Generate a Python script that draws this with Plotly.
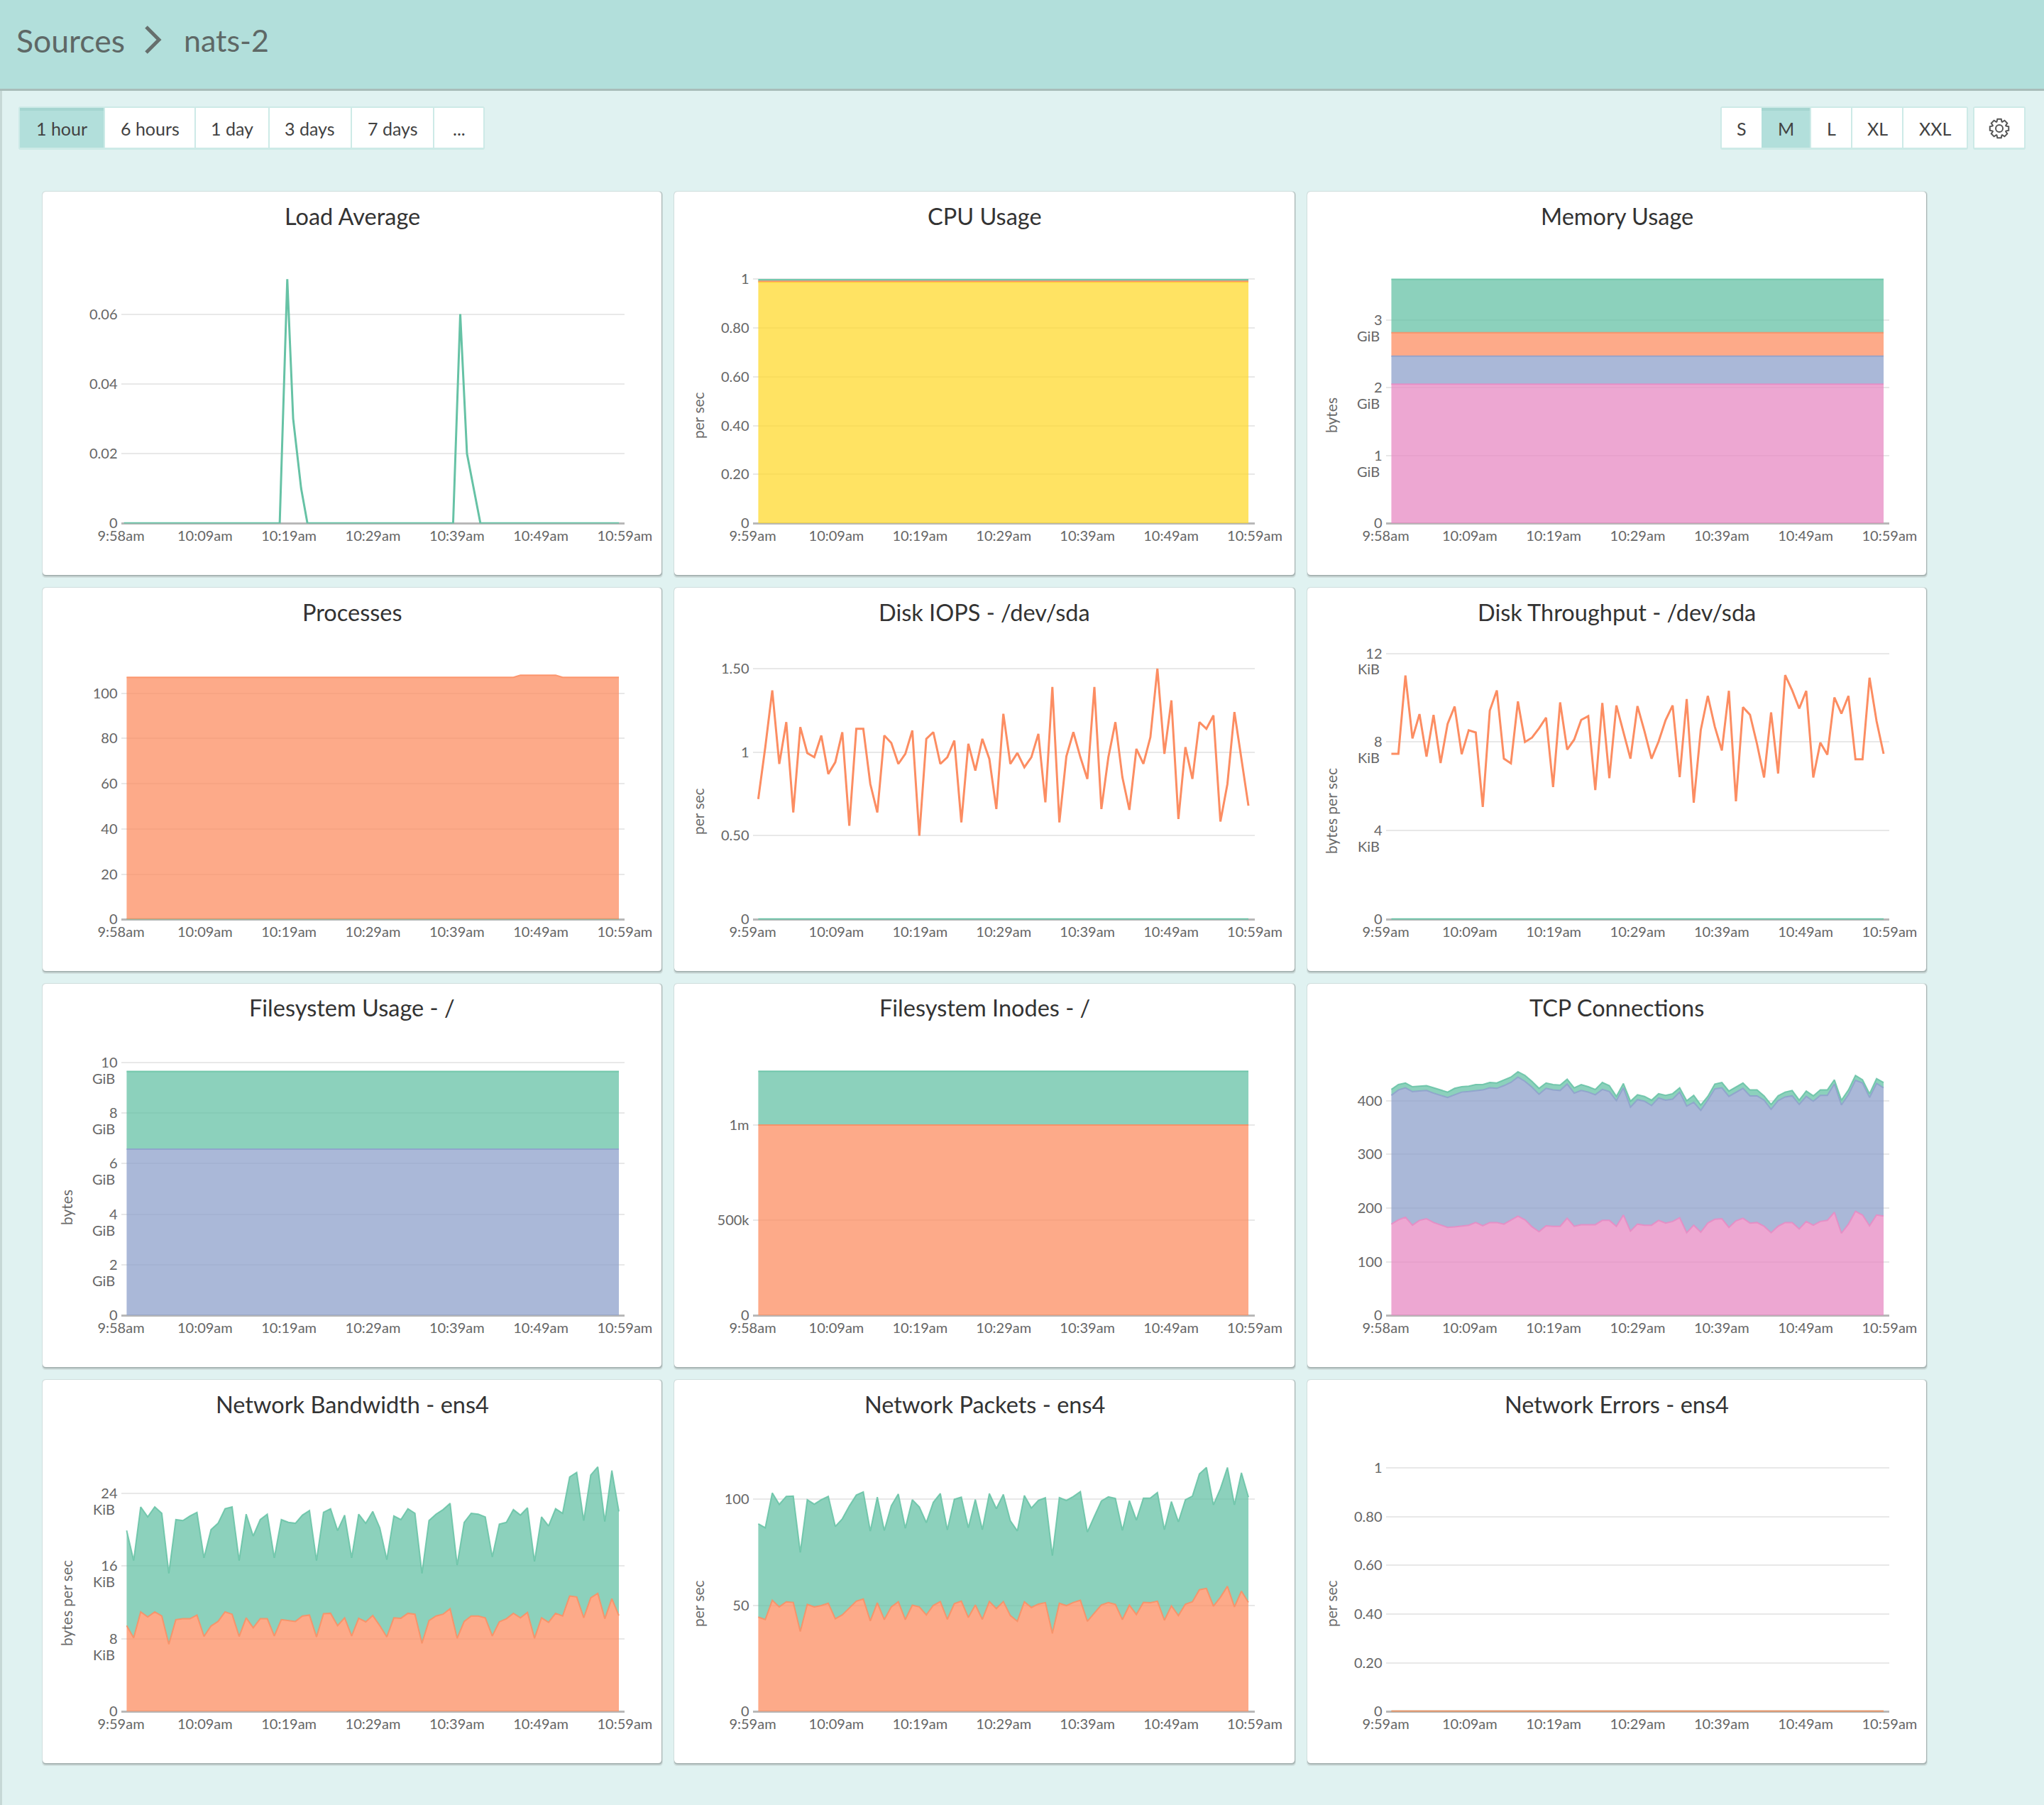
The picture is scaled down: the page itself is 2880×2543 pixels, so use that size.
"""Sources / nats-2 host dashboard, twelve small time series panels."""

import numpy as np
import plotly.graph_objects as go

W, H = 2880, 2543

GREEN, ORANGE, BLUE, PINK, YELLOW = "102,194,165", "252,141,98", "141,160,203", "231,138,195", "255,217,47"

# minutes past the first tick
TICK_MIN = [0, 10, 20, 30, 40, 50, 60]
TICKS_958 = ["9:58am", "10:09am", "10:19am", "10:29am", "10:39am", "10:49am", "10:59am"]
TICKS_959 = ["9:59am", "10:09am", "10:19am", "10:29am", "10:39am", "10:49am", "10:59am"]

load_minutes = [0.35, 18.9, 19.8, 20.5, 21.45, 22.2, 39.55, 40.4, 41.2, 42.8, 59.3]
load_values = [0, 0, 0.07, 0.03, 0.01, 0, 0, 0.06, 0.02, 0, 0]

cpu_idle = [0.988] * 71
cpu_system = [0.991] * 71
cpu_total = [0.998] * 71

mem_used = [2.053] * 71
mem_buffers = [2.467] * 71
mem_cached = [2.81] * 71
mem_free = [3.60] * 71

proc_sleeping = [107] * 56 + [108] * 6 + [107] * 9
proc_running = [0] * 71

iops_sda = [
    0.72, 1.03, 1.37, 0.93, 1.18, 0.64, 1.15, 0.995, 0.97, 1.10, 0.87, 0.94, 1.12, 0.56, 1.14, 1.14, 0.81, 0.64,
    1.10, 1.055, 0.93, 0.99, 1.13, 0.50, 1.08, 1.12, 0.93, 0.97, 1.07, 0.58, 1.05, 0.89, 1.08, 0.96, 0.66, 1.23,
    0.93, 0.995, 0.91, 0.97, 1.11, 0.70, 1.39, 0.58, 0.975, 1.12, 0.97, 0.84, 1.39, 0.66, 0.97, 1.18, 0.85, 0.655,
    1.02, 0.93, 1.09, 1.50, 0.99, 1.31, 0.60, 1.03, 0.84, 1.18, 1.14, 1.22, 0.585, 0.81, 1.24, 0.97, 0.68,
]
iops_other = [0] * 71

throughput_sda = [
    7.47, 7.47, 11.0, 8.16, 9.26, 7.34, 9.22, 7.05, 8.82, 9.6, 7.45, 8.53, 8.43, 5.07, 9.42, 10.33, 7.25, 7.04,
    9.83, 8.0, 8.2, 8.62, 9.1, 5.97, 9.79, 7.66, 8.11, 9.0, 9.17, 5.83, 9.76, 6.37, 9.65, 8.48, 7.25, 9.62,
    8.48, 7.25, 8.02, 8.99, 9.65, 6.42, 9.94, 5.26, 8.54, 10.08, 8.69, 7.62, 10.31, 5.33, 9.57, 9.23, 7.91, 6.4,
    9.34, 6.58, 11.02, 10.33, 9.51, 10.31, 6.4, 7.97, 7.43, 10.01, 9.28, 10.08, 7.22, 7.22, 10.9, 8.94, 7.47,
]
throughput_other = [0] * 71

fs_used = [6.57] * 71
fs_total = [9.64] * 71

inodes_free = [1000000] * 71
inodes_total = [1282000] * 71

tcp_established = [
    170, 178, 183, 168, 177, 180, 173, 168, 164, 165, 167, 168, 173, 167, 173, 173, 170, 178, 185, 178,
    165, 156, 167, 166, 166, 181, 166, 169, 169, 169, 177, 177, 166, 187, 157, 170, 168, 168, 177, 172,
    175, 182, 154, 168, 155, 172, 179, 180, 164, 176, 181, 172, 173, 166, 154, 166, 173, 173, 161, 175,
    168, 175, 177, 192, 153, 170, 194, 187, 167, 187, 185,
]
tcp_time_wait = [
    410, 420, 424, 417, 418, 419, 414, 410, 406, 411, 416, 417, 419, 420, 424, 423, 428, 434, 444, 436,
    425, 412, 423, 420, 419, 431, 414, 419, 416, 411, 421, 417, 400, 424, 388, 402, 399, 391, 405, 401,
    403, 416, 390, 397, 382, 401, 422, 424, 408, 416, 423, 409, 409, 401, 384, 400, 407, 409, 393, 408,
    399, 410, 410, 431, 392, 411, 438, 433, 406, 432, 424,
]
tcp_total = [
    421, 430, 433, 426, 427, 428, 424, 420, 416, 423, 426, 427, 430, 430, 434, 433, 438, 444, 454, 447,
    436, 423, 433, 430, 429, 440, 424, 430, 426, 421, 434, 428, 408, 432, 399, 411, 408, 401, 413, 410,
    413, 424, 400, 410, 392, 408, 431, 434, 418, 425, 433, 420, 420, 409, 393, 409, 416, 419, 401, 418,
    409, 420, 420, 439, 401, 420, 447, 439, 413, 441, 434,
]

bandwidth_out = [
    9.44, 8.1, 10.95, 10.4, 10.95, 10.5, 7.4, 10.1, 10.2, 10.2, 10.6, 8.25, 9.4, 9.9, 10.95, 10.7, 8.25, 10.3,
    9.2, 10.2, 10.2, 8.3, 10.1, 10.0, 9.9, 10.5, 10.6, 8.2, 10.75, 10.8, 9.44, 10.3, 8.3, 10.25, 9.86, 10.55,
    9.44, 8.2, 10.3, 10.25, 10.8, 10.7, 7.5, 10.0, 10.5, 10.7, 11.3, 8.05, 9.9, 10.5, 10.5, 10.3, 8.3, 9.86,
    10.2, 10.8, 10.3, 10.9, 8.05, 10.3, 9.8, 10.8, 10.5, 12.7, 12.6, 10.3, 12.5, 13.0, 10.2, 12.4, 10.55,
]
bandwidth_total = [
    19.9, 16.6, 22.5, 21.4, 22.5, 21.8, 15.2, 21.1, 21.0, 21.5, 21.9, 16.9, 20.0, 20.7, 22.3, 22.5, 16.6, 21.7,
    19.3, 21.1, 21.7, 16.9, 21.1, 20.8, 20.7, 21.6, 22.1, 16.6, 21.9, 22.3, 19.9, 21.6, 16.9, 21.7, 20.7, 22.0,
    20.2, 16.7, 21.5, 21.1, 22.3, 21.8, 15.2, 21.0, 21.7, 22.2, 22.9, 16.1, 20.8, 21.8, 21.7, 21.4, 17.0, 20.6,
    20.8, 22.2, 21.6, 22.4, 16.5, 21.4, 20.4, 22.3, 21.8, 25.8, 26.3, 21.0, 26.0, 26.9, 20.9, 26.5, 22.0,
]

packets_out = [
    44.5, 43.3, 52.4, 49.3, 51.7, 51.4, 37.7, 50.5, 49.3, 49.9, 51, 43.7, 45.5, 48.8, 52, 53, 42.7, 51.2,
    43.3, 49.3, 51.7, 43.3, 50.1, 49.3, 45.5, 50, 51.8, 43.4, 50.8, 52, 44.3, 50.2, 43.4, 51.8, 48.5, 51.8,
    45.2, 42.5, 51.7, 49, 50.6, 51.3, 36.8, 51, 49.9, 51.4, 52.4, 42.5, 46.4, 50.2, 51.3, 50.5, 43.3, 50.1,
    45.7, 51.4, 51.3, 52, 43, 49.8, 45.2, 50.6, 51.7, 57.4, 58, 49.6, 53.8, 59, 49.3, 56.7, 51.4,
]
packets_total = [
    88.4, 86.6, 103, 97.6, 101.4, 101.5, 75, 99.8, 97.7, 99.8, 101.4, 87.2, 90.8, 96.8, 102, 103.5, 85, 101,
    85.3, 97, 102.5, 86.4, 99.8, 96.4, 89, 98.6, 102.7, 85.6, 100, 101, 86.6, 99.9, 85.7, 102.7, 95.6, 102.3,
    89.9, 85.1, 101.8, 95.9, 99.5, 100.7, 73.5, 100.8, 99.5, 101.3, 103.6, 84.6, 92, 99.2, 101.2, 100.4, 85.4, 99.4,
    90.2, 100.5, 100.6, 103.2, 85.7, 98.9, 89.4, 99.8, 101.5, 112, 115, 97.4, 105, 115, 97.4, 112.5, 101,
]

errors_in = [0] * 71
errors_out = [0] * 71

# title, x labels, y top, y ticks, y labels, y unit line, y title, [(values, colour, filled)]
PANELS = [
    ("Load Average", TICKS_958, 0.0768, [0, 0.02, 0.04, 0.06], ["0", "0.02", "0.04", "0.06"], None, None,
     [(load_values, GREEN, False)]),
    ("CPU Usage", TICKS_959, 1.0967, [0, 0.2, 0.4, 0.6, 0.8, 1], ["0", "0.20", "0.40", "0.60", "0.80", "1"], None,
     "per sec", [(cpu_idle, YELLOW, True), (cpu_system, ORANGE, True), (cpu_total, GREEN, True)]),
    ("Memory Usage", TICKS_958, 3.95, [0, 1, 2, 3], ["0", "1", "2", "3"], "GiB", "bytes",
     [(mem_used, PINK, True), (mem_buffers, BLUE, True), (mem_cached, ORANGE, True), (mem_free, GREEN, True)]),
    ("Processes", TICKS_958, 118.4, [0, 20, 40, 60, 80, 100], ["0", "20", "40", "60", "80", "100"], None, None,
     [(proc_running, GREEN, False), (proc_sleeping, ORANGE, True)]),
    ("Disk IOPS - /dev/sda", TICKS_959, 1.602, [0, 0.5, 1, 1.5], ["0", "0.50", "1", "1.50"], None, "per sec",
     [(iops_other, GREEN, False), (iops_sda, ORANGE, False)]),
    ("Disk Throughput - /dev/sda", TICKS_959, 12.08, [0, 4, 8, 12], ["0", "4", "8", "12"], "KiB", "bytes per sec",
     [(throughput_other, GREEN, False), (throughput_sda, ORANGE, False)]),
    ("Filesystem Usage - /", TICKS_958, 10.58, [0, 2, 4, 6, 8, 10], ["0", "2", "4", "6", "8", "10"], "GiB", "bytes",
     [(fs_used, BLUE, True), (fs_total, GREEN, True)]),
    ("Filesystem Inodes - /", TICKS_958, 1406000, [0, 500000, 1000000], ["0", "500k", "1m"], None, None,
     [(inodes_free, ORANGE, True), (inodes_total, GREEN, True)]),
    ("TCP Connections", TICKS_958, 498.8, [0, 100, 200, 300, 400], ["0", "100", "200", "300", "400"], None, None,
     [(tcp_established, PINK, True), (tcp_time_wait, BLUE, True), (tcp_total, GREEN, True)]),
    ("Network Bandwidth - ens4", TICKS_959, 29.45, [0, 8, 16, 24], ["0", "8", "16", "24"], "KiB", "bytes per sec",
     [(bandwidth_out, ORANGE, True), (bandwidth_total, GREEN, True)]),
    ("Network Packets - ens4", TICKS_959, 126.2, [0, 50, 100], ["0", "50", "100"], None, "per sec",
     [(packets_out, ORANGE, True), (packets_total, GREEN, True)]),
    ("Network Errors - ens4", TICKS_959, 1.0993, [0, 0.2, 0.4, 0.6, 0.8, 1], ["0", "0.20", "0.40", "0.60", "0.80", "1"],
     None, "per sec", [(errors_in, GREEN, False), (errors_out, ORANGE, False)]),
]

TITLE_FONT = "Lato"
TICK_FONT = dict(family=TITLE_FONT, size=20, color="#666666")
CARD_X = [60, 950, 1842]
CARD_WIDTHS = [872, 874, 872]
CARD_Y = [270, 828, 1386, 1944]
CARD_H = 540


def px(x):
    return x / W


def py(y):
    return 1 - y / H


def round_rect(x0, y0, x1, y1, r=5):
    pts = [
        f"M {px(x0 + r)} {py(y0)}", f"L {px(x1 - r)} {py(y0)}", f"Q {px(x1)} {py(y0)} {px(x1)} {py(y0 + r)}",
        f"L {px(x1)} {py(y1 - r)}", f"Q {px(x1)} {py(y1)} {px(x1 - r)} {py(y1)}",
        f"L {px(x0 + r)} {py(y1)}", f"Q {px(x0)} {py(y1)} {px(x0)} {py(y1 - r)}",
        f"L {px(x0)} {py(y0 + r)}", f"Q {px(x0)} {py(y0)} {px(x0 + r)} {py(y0)}", "Z",
    ]
    return " ".join(pts)


def box(x0, y0, x1, y1, fill, r=0):
    if r:
        return dict(type="path", xref="paper", yref="paper", path=round_rect(x0, y0, x1, y1, r),
                    fillcolor=fill, line_width=0, layer="below")
    return dict(type="rect", xref="paper", yref="paper", x0=px(x0), x1=px(x1), y0=py(y1), y1=py(y0),
                fillcolor=fill, line_width=0, layer="below")


def label(x, y, text, size, color="#424242", anchor="center", angle=0):
    return dict(x=px(x), y=py(y), xref="paper", yref="paper", text=text, showarrow=False, xanchor=anchor,
                yanchor="middle", textangle=angle, font=dict(family=TITLE_FONT, size=size, color=color))


def gear_path(cx, cy, r_out=13.5, r_in=10):
    pts = []
    for i in range(8):
        a = i * np.pi / 4
        for da, r in [(-0.36, r_in), (-0.2, r_out), (0.2, r_out), (0.36, r_in)]:
            pts.append((cx + r * np.cos(a + da), cy + r * np.sin(a + da)))
    return "M " + " L ".join(f"{px(x)} {py(y)}" for x, y in pts) + " Z"


shapes = [
    box(0, 0, 3, H, "#c6d8d6"),
    box(0, 124, W, 128, "#a9bdba"),
    box(0, 0, W, 125, "#b2dfdb"),
]
annotations = [
    label(21, 57, "Sources", 44.5, "#5e6866", "left"),
    label(257, 57, "nats-2", 43, "#5e6866", "left"),
]
# breadcrumb chevron
shapes.append(dict(type="path", xref="paper", yref="paper", layer="below",
                   path=f"M {px(206)} {py(38)} L {px(224)} {py(56)} L {px(206)} {py(74)}",
                   line=dict(color="#666f6d", width=5), fillcolor="rgba(0,0,0,0)"))

# time range and size buttons
left_buttons = [(28, 146, "1 hour", True), (148, 274, "6 hours", False), (276, 378, "1 day", False),
                (380, 494, "3 days", False), (496, 610, "7 days", False), (612, 681, "...", False)]
right_buttons = [(2426, 2482, "S", False), (2482, 2550, "M", True), (2552, 2608, "L", False),
                 (2610, 2680, "XL", False), (2682, 2771, "XXL", False), (2782, 2852, "", False)]
shapes.append(box(26, 150, 683, 211, "#cdeae7", 3))
shapes.append(box(2424, 150, 2773, 211, "#cdeae7", 3))
shapes.append(box(2780, 150, 2854, 211, "#cdeae7", 3))
for x0, x1, text, active in left_buttons + right_buttons:
    shapes.append(box(x0, 152, x1, 208, "#b2dfdb" if active else "#ffffff"))
    if active:
        shapes.append(box(x0, 152, x1, 156, "#a5d5d0"))
    if text:
        annotations.append(label((x0 + x1) / 2, 181, text, 25))
shapes.append(dict(type="path", xref="paper", yref="paper", layer="above", path=gear_path(2817, 181),
                   line=dict(color="#555555", width=2), fillcolor="#ffffff"))
shapes.append(dict(type="circle", xref="paper", yref="paper", layer="above", x0=px(2812), x1=px(2822),
                   y0=py(186), y1=py(176), line=dict(color="#555555", width=2), fillcolor="#ffffff"))

fig = go.Figure()

for i, (title, x_labels, y_top, y_vals, y_text, y_unit, y_title, series) in enumerate(PANELS):
    row, col = i // 3, i % 3
    cx, cy = CARD_X[col], CARD_Y[row]
    card_w = CARD_WIDTHS[col]
    n = i + 1
    shapes.append(box(cx - 1, cy - 1, cx + card_w + 2, cy + CARD_H + 4, "#cfdedd", 6))
    shapes.append(box(cx, cy, cx + card_w + 1, cy + CARD_H + 2, "#a8b5b4", 5))
    shapes.append(box(cx, cy, cx + card_w, cy + CARD_H, "#ffffff", 5))
    annotations.append(label(cx + card_w / 2, cy + 34, title, 32.5, "#333333"))
    if y_title:
        annotations.append(label(cx + 33, cy + 315, y_title, 21, "#6a6a6a", angle=-90))
    if y_unit:
        # unit sits on a second line under the number
        for val in y_vals[1:]:
            annotations.append(dict(x=px(cx + 104), xref="paper", y=val, yref=f"y{n}", yshift=-22, text=y_unit,
                                    showarrow=False, xanchor="right", yanchor="middle", font=TICK_FONT))

    ax_left = cx + 110.5
    ax_right = cx + (818 if col == 1 else 820.4)
    data_end = 59.24 if col == 1 else 59.29

    for j, (values, colour, filled) in enumerate(series):
        if values is load_values:
            xs = load_minutes
        else:
            xs = np.linspace(0.67, data_end, len(values))
        line_colour = f"rgba({colour},0.85)" if filled else f"rgb({colour})"
        trace = dict(x=xs, y=values, mode="lines", xaxis=f"x{n}", yaxis=f"y{n}", hoverinfo="skip", cliponaxis=False,
                     line=dict(color=line_colour, width=2 if filled else 3))
        if filled:
            trace["fill"] = "tozeroy" if j == 0 or not series[j - 1][2] else "tonexty"
            trace["fillcolor"] = f"rgba({colour},0.75)"
        fig.add_trace(go.Scatter(**trace))

    fig.update_layout({
        f"xaxis{n}": dict(
            domain=[px(ax_left), px(ax_right)], range=[0, 60], anchor=f"y{n}", tickmode="array",
            tickvals=TICK_MIN, ticktext=x_labels, showgrid=False, zeroline=False, showline=False,
            ticks="", fixedrange=True, automargin=False, ticklabelstandoff=3, tickfont=TICK_FONT,
        ),
        # baseline is the zero line so the series draw over it; range starts a hair below 0 to keep it shown
        f"yaxis{n}": dict(
            domain=[py(cy + 467.6), py(cy + 90)], range=[-y_top * 0.001, y_top], anchor=f"x{n}", tickmode="array",
            tickvals=y_vals, ticktext=y_text, showgrid=True, gridcolor="#e8e8e8", gridwidth=2, automargin=False,
            zeroline=True, zerolinecolor="#b8b8b8", zerolinewidth=3, showline=False, ticks="",
            layer="below traces", ticklabelstandoff=4, fixedrange=True, tickfont=TICK_FONT,
        ),
    })

fig.update_layout(
    width=W, height=H, autosize=False, showlegend=False,
    margin=dict(l=0, r=0, t=0, b=0, pad=0),
    paper_bgcolor="#e0f2f1", plot_bgcolor="rgba(0,0,0,0)",
    shapes=shapes, annotations=annotations,
)

fig.write_html("out.html", config={"displayModeBar": False},
               post_script="document.body.style.margin='0';document.body.style.overflow='hidden';")
